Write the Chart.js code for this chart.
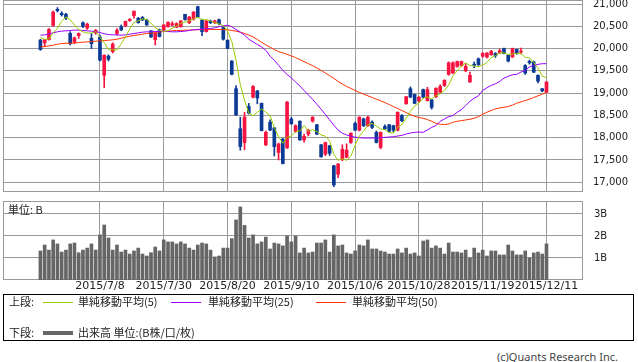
<!DOCTYPE html>
<html lang="ja">
<head>
<meta charset="utf-8">
<title>株価チャート</title>
<script src="https://cdn.jsdelivr.net/npm/chart.js@4.4.1/dist/chart.umd.min.js"></script>
<style>
    html, body { margin: 0; padding: 0; background: #fff; }
    #wrap { position: relative; width: 638px; height: 362px; overflow: hidden;
            font-family: "Noto Sans CJK JP", sans-serif; font-size: 11px; color: #222; }
    canvas { position: absolute; left: 0; }
    #priceChart { top: 0; }
    #volumeChart { top: 201px; }
    .txt { position: absolute; line-height: 13px; white-space: nowrap; }
    .legend-box { position: absolute; left: 3px; top: 294px; width: 629px; height: 45px; border: 1px solid #000; }
    .swatch { position: absolute; width: 30px; }
    .copy { position: absolute; right: 20px; top: 350px; font-family: "Noto Sans", sans-serif; font-size: 11px; color: #444; line-height: 13px; }
</style>
</head>
<body>
<div id="wrap">
    <canvas id="priceChart" width="638" height="192"></canvas>
    <canvas id="volumeChart" width="638" height="96"></canvas>
    <div class="txt" style="left:8px; top:203px;">単位: B</div>

    <div class="legend-box"></div>
    <div class="txt" style="left:9px; top:295px;">上段:</div>
    <div class="swatch" style="left:43px; top:302px; border-top:1px solid #99cc00;"></div>
    <div class="txt" style="left:78px; top:295px;">単純移動平均(5)</div>
    <div class="swatch" style="left:171px; top:302px; border-top:1px solid #9900ff;"></div>
    <div class="txt" style="left:208px; top:295px;">単純移動平均(25)</div>
    <div class="swatch" style="left:316px; top:302px; border-top:1px solid #ff3300;"></div>
    <div class="txt" style="left:352px; top:295px;">単純移動平均(50)</div>

    <div class="txt" style="left:9px; top:326px;">下段:</div>
    <div class="swatch" style="left:43px; top:331px; height:4px; background:#666;"></div>
    <div class="txt" style="left:78px; top:326px;">出来高 単位:(B株/口/枚)</div>

    <div class="copy">(c)Quants Research Inc.</div>
</div>

<script>
// trading days shown on the chart
const days = [
    '6/18','6/19','6/22','6/23','6/24','6/25','6/26','6/29','6/30',
    '7/1','7/2','7/3','7/6','7/7','7/8','7/9','7/10','7/13','7/14','7/15','7/16','7/17',
    '7/21','7/22','7/23','7/24','7/27','7/28','7/29','7/30','7/31',
    '8/3','8/4','8/5','8/6','8/7','8/10','8/11','8/12','8/13','8/14','8/17','8/18','8/19',
    '8/20','8/21','8/24','8/25','8/26','8/27','8/28','8/31',
    '9/1','9/2','9/3','9/4','9/7','9/8','9/9','9/10','9/11','9/14','9/15','9/16','9/17',
    '9/18','9/24','9/25','9/28','9/29','9/30',
    '10/1','10/2','10/5','10/6','10/7','10/8','10/9','10/13','10/14','10/15','10/16',
    '10/19','10/20','10/21','10/22','10/23','10/26','10/27','10/28','10/29','10/30',
    '11/2','11/4','11/5','11/6','11/9','11/10','11/11','11/12','11/13','11/16','11/17',
    '11/18','11/19','11/20','11/24','11/25','11/26','11/27','11/30',
    '12/1','12/2','12/3','12/4','12/7','12/8','12/9','12/10','12/11'
];

const tickLabels = ['2015/7/8', '2015/7/30', '2015/8/20', '2015/9/10',
                    '2015/10/6', '2015/10/28', '2015/11/19', '2015/12/11'];
const priceTicks = [17000, 17500, 18000, 18500, 19000, 19500, 20000, 20500, 21000];
const volumeTicks = [1, 2, 3];

const open = [
    20190, 20130, 20200, 20520, 20880, 20790, 20770, 20340, 20150, 20290,
    20580, 20460, 20230, 20350, 20260, 19400, 19830, 19930, 20340, 20490,
    20510, 20630, 20740, 20680, 20700, 20640, 20400, 20200, 20420, 20420,
    20490, 20530, 20480, 20490, 20770, 20580, 20660, 20940, 20640, 20380,
    20620, 20580, 20650, 20470, 20190, 19720, 19100, 18200, 17890, 18700,
    18910, 19050, 18770, 17840, 18350, 18220, 17670, 17970, 17770, 18420,
    18140, 18370, 17950, 18080, 18370, 18290, 17840, 17630, 17820, 17370,
    17180, 17520, 17560, 17890, 18320, 18170, 18420, 18270, 18350, 18120,
    17780, 18250, 18290, 18270, 18170, 18500, 18760, 19100, 18970, 18820,
    19080, 18830, 18850, 18920, 19020, 19170, 19420, 19450, 19600, 19620,
    19500, 19250, 19650, 19770, 19830, 19810, 19860, 19890, 19910, 20000,
    19850, 19810, 19980, 19920, 19620, 19710, 19700, 19400, 19100, 19020
];
const high = [
    20210, 20210, 20450, 20840, 20920, 20830, 20790, 20380, 20260, 20350,
    20600, 20570, 20340, 20430, 20300, 19860, 19860, 20130, 20450, 20530,
    20620, 20670, 20840, 20700, 20720, 20660, 20400, 20350, 20440, 20540,
    20600, 20600, 20580, 20630, 20770, 20720, 20830, 20950, 20650, 20630,
    20640, 20640, 20660, 20490, 20190, 19730, 19170, 18460, 18570, 18770,
    19170, 19060, 18780, 18150, 18400, 18230, 17880, 17980, 18810, 18460,
    18290, 18380, 18080, 18190, 18470, 18300, 17850, 17900, 17830, 17380,
    17420, 17840, 17860, 18110, 18350, 18470, 18440, 18480, 18380, 18150,
    18130, 18290, 18300, 18280, 18580, 18520, 18930, 19140, 18980, 18920,
    19090, 19130, 18860, 19120, 19190, 19300, 19700, 19700, 19720, 19720,
    19660, 19470, 19700, 19790, 19910, 19910, 19960, 19910, 19990, 20010,
    19860, 20010, 19990, 20010, 19640, 19740, 19720, 19410, 19100, 19260
];
const low = [
    19960, 20050, 20190, 20500, 20820, 20730, 20650, 20080, 20110, 20230,
    20470, 20430, 20000, 20320, 19720, 19120, 19720, 19900, 20300, 20400,
    20490, 20610, 20680, 20570, 20630, 20520, 20250, 20080, 20260, 20400,
    20480, 20510, 20470, 20480, 20640, 20560, 20640, 20700, 20290, 20370,
    20560, 20560, 20530, 20190, 20000, 19410, 18500, 17720, 17730, 18530,
    18890, 18760, 18150, 17820, 18160, 17590, 17500, 17410, 17760, 18300,
    18120, 17940, 17900, 18040, 18350, 18070, 17560, 17600, 17600, 16900,
    17100, 17480, 17550, 17870, 18160, 18150, 18250, 18250, 18200, 17880,
    17750, 18180, 18120, 18130, 18150, 18360, 18750, 18900, 18760, 18800,
    18890, 18820, 18640, 18900, 19000, 19150, 19400, 19440, 19580, 19600,
    19480, 19240, 19570, 19620, 19800, 19790, 19850, 19800, 19890, 19880,
    19700, 19800, 19870, 19880, 19420, 19650, 19460, 19230, 19030, 19010
];
const close = [
    19980, 20200, 20430, 20820, 20850, 20760, 20690, 20110, 20240, 20340,
    20500, 20550, 20110, 20410, 19740, 19850, 19760, 20100, 20410, 20420,
    20610, 20660, 20840, 20580, 20640, 20530, 20260, 20340, 20270, 20530,
    20590, 20560, 20560, 20620, 20650, 20710, 20820, 20710, 20380, 20620,
    20580, 20620, 20560, 20210, 20000, 19420, 18510, 17800, 18460, 18550,
    19150, 18890, 18160, 18120, 18170, 17800, 17860, 17420, 18800, 18310,
    18270, 17950, 18030, 18170, 18460, 18080, 17570, 17890, 17650, 16940,
    17410, 17740, 17720, 18100, 18170, 18460, 18270, 18460, 18230, 17890,
    18120, 18200, 18140, 18170, 18570, 18380, 18920, 18910, 18770, 18910,
    18910, 19080, 18680, 19110, 19150, 19290, 19680, 19680, 19710, 19710,
    19600, 19400, 19620, 19640, 19890, 19900, 19940, 19840, 19950, 19890,
    19720, 20000, 19900, 19940, 19450, 19680, 19470, 19270, 19050, 19250
];

// simple moving averages as drawn on the chart
const ma5 = [
    20248, 20203, 20218, 20353, 20456, 20612, 20710, 20646, 20530, 20428,
    20376, 20348, 20348, 20382, 20262, 20132, 19974, 19972, 19972, 20108,
    20260, 20440, 20588, 20622, 20666, 20650, 20570, 20470, 20408, 20386,
    20398, 20458, 20502, 20572, 20596, 20620, 20672, 20702, 20654, 20648,
    20622, 20582, 20552, 20518, 20394, 20162, 19740, 19188, 18838, 18548,
    18494, 18570, 18642, 18574, 18498, 18228, 18022, 17874, 18010, 18038,
    18132, 18150, 18272, 18146, 18176, 18138, 18062, 18034, 17930, 17626,
    17492, 17526, 17492, 17582, 17828, 18038, 18144, 18292, 18318, 18262,
    18194, 18180, 18116, 18104, 18240, 18292, 18436, 18590, 18710, 18778,
    18884, 18916, 18870, 18938, 18986, 19062, 19182, 19382, 19502, 19614,
    19676, 19620, 19608, 19594, 19630, 19690, 19798, 19842, 19904, 19904,
    19868, 19880, 19892, 19890, 19802, 19794, 19688, 19562, 19384, 19344
];
const ma25 = [
    20301, 20308, 20331, 20353, 20376, 20391, 20398, 20406, 20413, 20413,
    20406, 20398, 20391, 20376, 20361, 20331, 20316, 20308, 20308, 20301,
    20308, 20323, 20338, 20353, 20368, 20376, 20376, 20383, 20383, 20391,
    20383, 20376, 20376, 20383, 20391, 20406, 20421, 20428, 20436, 20444,
    20451, 20466, 20490, 20510, 20526, 20489, 20428, 20368, 20301, 20210,
    20150, 20090, 20037, 19962, 19827, 19737, 19624, 19511, 19421, 19340,
    19250, 19160, 19060, 18960, 18860, 18750, 18640, 18520, 18400, 18280,
    18170, 18100, 18060, 18035, 18010, 18000, 17992, 17992, 17992, 17992,
    18000, 18007, 18015, 18022, 18037, 18052, 18082, 18105, 18120, 18127,
    18120, 18172, 18233, 18270, 18368, 18421, 18473, 18496, 18571, 18631,
    18721, 18819, 18887, 18939, 19060, 19120, 19173, 19210, 19263, 19338,
    19376, 19413, 19421, 19474, 19511, 19586, 19624, 19646, 19661, 19661
];
const ma50 = [
    20037, 20045, 20060, 20075, 20098, 20113, 20120, 20120, 20128, 20135,
    20143, 20150, 20158, 20165, 20173, 20180, 20188, 20195, 20210, 20233,
    20256, 20278, 20293, 20308, 20323, 20338, 20346, 20361, 20368, 20383,
    20391, 20398, 20406, 20406, 20413, 20413, 20421, 20421, 20428, 20428,
    20428, 20428, 20428, 20428, 20421, 20406, 20391, 20368, 20338, 20301,
    20263, 20203, 20143, 20083, 20030, 19977, 19932, 19902, 19872, 19834,
    19797, 19752, 19707, 19661, 19616, 19564, 19511, 19451, 19391, 19331,
    19263, 19203, 19150, 19105, 19060, 19015, 18977, 18940, 18902, 18864,
    18827, 18789, 18744, 18699, 18654, 18609, 18564, 18518, 18481, 18451,
    18436, 18406, 18368, 18323, 18300, 18293, 18308, 18346, 18368, 18383,
    18398, 18413, 18436, 18473, 18526, 18571, 18609, 18646, 18669, 18684,
    18699, 18729, 18774, 18804, 18834, 18864, 18902, 18940, 18977, 19015
];

// volume in billions of shares
const volume = [
    1.32, 1.59, 1.36, 1.82, 1.64, 1.27, 1.36, 1.64, 1.68, 1.24,
    1.36, 1.45, 1.64, 1.36, 2.05, 2.50, 1.91, 1.36, 1.59, 1.27,
    1.36, 1.18, 1.32, 1.45, 1.18, 1.09, 1.24, 1.50, 1.32, 1.82,
    1.73, 1.73, 1.64, 1.73, 1.64, 1.45, 1.36, 1.59, 1.68, 1.64,
    1.36, 1.05, 1.09, 1.45, 1.45, 1.88, 2.73, 3.32, 2.48, 1.91,
    2.05, 1.64, 1.73, 1.95, 1.41, 1.68, 1.64, 1.55, 2.00, 1.73,
    2.00, 1.23, 1.45, 1.23, 1.27, 1.68, 1.68, 1.82, 1.27, 2.05,
    1.55, 1.59, 1.23, 1.18, 1.32, 1.59, 1.55, 1.82, 1.41, 1.41,
    1.32, 1.27, 1.18, 1.18, 1.41, 1.23, 1.45, 1.18, 1.23, 1.09,
    1.77, 1.82, 1.45, 1.55, 1.45, 1.18, 1.68, 1.27, 1.27, 1.23,
    1.36, 1.00, 1.45, 1.23, 1.36, 1.09, 1.32, 1.32, 1.14, 1.14,
    1.59, 1.32, 1.14, 1.14, 1.32, 1.00, 1.23, 1.27, 1.18, 1.64
];

const gridColor = '#9a9a9a';
const upColor = '#f5133f';
const downColor = '#0b3a94';
const labelFont = { family: 'DejaVu Sans', size: 10 };

const tickIdx = tickLabels.map(t => days.indexOf(t.slice(5)));
const candleColors = days.map((d, i) => close[i] >= open[i] ? upColor : downColor);

// draws the gray box round the plot area
const framePlugin = {
    id: 'frame',
    beforeDatasetsDraw(chart) {
        const { ctx, chartArea: a } = chart;
        ctx.save();
        ctx.strokeStyle = gridColor;
        ctx.lineWidth = 1;
        ctx.strokeRect(Math.round(a.left) + 0.5, Math.round(a.top) + 0.5,
                       Math.round(a.right - a.left), Math.round(a.bottom - a.top) - 1);
        ctx.restore();
    }
};

function dateAxis(showLabels) {
    return {
        type: 'linear',
        min: -8.8,
        max: 127.35,
        offset: false,
        afterBuildTicks: s => { s.ticks = tickIdx.map(v => ({ value: v })); },
        afterFit: s => { s.height = showLabels ? 17 : 0; s.paddingLeft = 0; s.paddingRight = 0; },
        grid: { color: gridColor, drawTicks: false, offset: false },
        border: { display: false },
        ticks: {
            display: showLabels,
            autoSkip: false,
            maxRotation: 0,
            minRotation: 0,
            padding: 0,
            color: '#222',
            font: { family: 'DejaVu Sans', size: 11 },
            callback: v => tickLabels[tickIdx.indexOf(v)]
        }
    };
}

function valueAxis(min, max, ticks, fmt, pad) {
    return {
        position: 'right',
        min: min,
        max: max,
        afterBuildTicks: s => { s.ticks = ticks.map(v => ({ value: v })); },
        afterFit: s => { s.width = 56; s.paddingTop = 0; s.paddingBottom = 0; },
        grid: { color: gridColor, drawTicks: false },
        border: { display: false },
        ticks: { padding: pad, color: '#222', font: labelFont, callback: fmt }
    };
}

const baseOptions = {
    responsive: false,
    animation: false,
    devicePixelRatio: 1,
    layout: { padding: { left: 3, right: 0, top: 0, bottom: 0 } },
    plugins: { legend: { display: false }, tooltip: { enabled: false } }
};

new Chart(document.getElementById('priceChart'), {
    type: 'bar',
    data: {
        datasets: [
            {
                type: 'line', label: '単純移動平均(5)', order: 0,
                data: days.map((d, i) => ({ x: i, y: ma5[i] })),
                borderColor: '#99cc00', borderWidth: 1, pointRadius: 0
            },
            {
                type: 'line', label: '単純移動平均(25)', order: 0,
                data: days.map((d, i) => ({ x: i, y: ma25[i] })),
                borderColor: '#9900ff', borderWidth: 1, pointRadius: 0
            },
            {
                type: 'line', label: '単純移動平均(50)', order: 0,
                data: days.map((d, i) => ({ x: i, y: ma50[i] })),
                borderColor: '#ff3300', borderWidth: 1, pointRadius: 0
            },
            {
                label: 'body', order: 1, grouped: false,
                data: days.map((d, i) => ({ x: i, y: [open[i], close[i]] })),
                backgroundColor: candleColors,
                barThickness: 3, minBarLength: 1
            },
            {
                label: 'wick', order: 2, grouped: false,
                data: days.map((d, i) => ({ x: i, y: [low[i], high[i]] })),
                backgroundColor: candleColors,
                barThickness: 1
            }
        ]
    },
    options: {
        ...baseOptions,
        scales: {
            x: dateAxis(false),
            y: valueAxis(16781, 21090, priceTicks, v => v.toLocaleString('en-US'), 11)
        }
    },
    plugins: [framePlugin]
});

new Chart(document.getElementById('volumeChart'), {
    type: 'bar',
    data: {
        datasets: [{
            label: '出来高',
            data: days.map((d, i) => ({ x: i, y: volume[i] })),
            backgroundColor: '#666666',
            barThickness: 3
        }]
    },
    options: {
        ...baseOptions,
        scales: {
            x: dateAxis(true),
            y: valueAxis(0, 3.59, volumeTicks, v => v + 'B', 12)
        }
    },
    plugins: [framePlugin]
});
</script>
</body>
</html>
